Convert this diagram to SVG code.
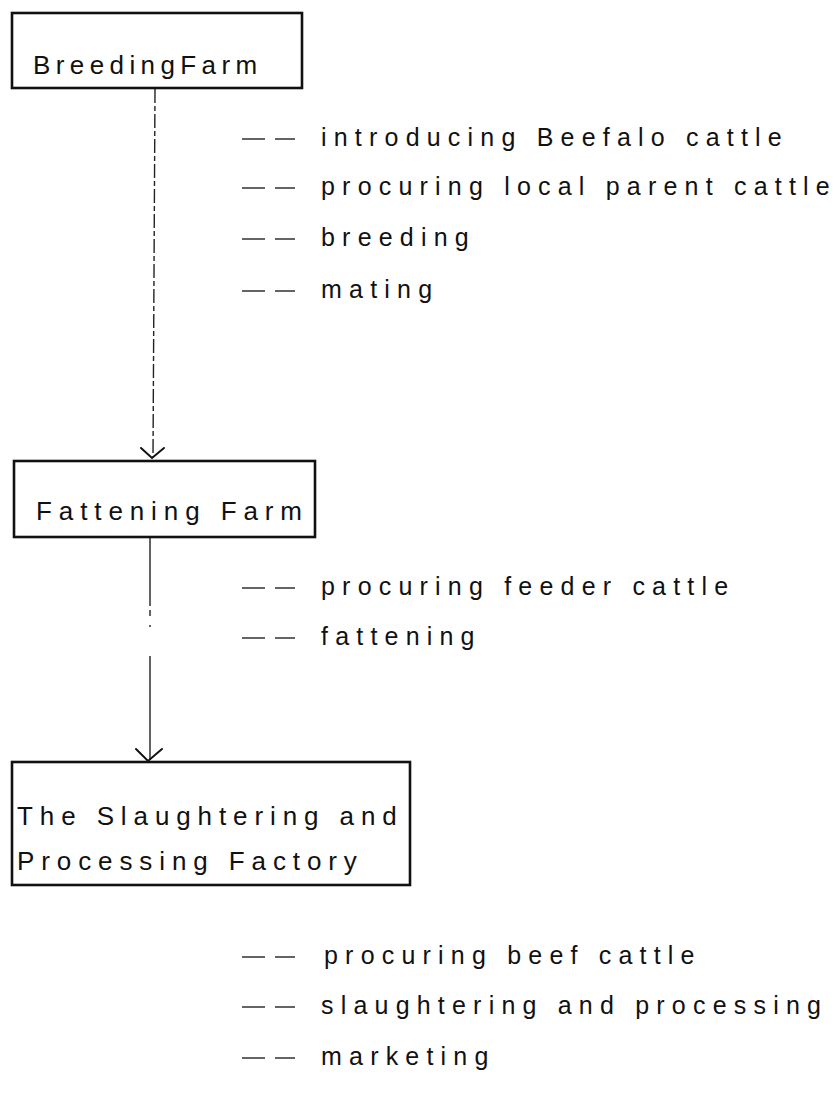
<svg xmlns="http://www.w3.org/2000/svg" width="835" height="1094" viewBox="0 0 835 1094">
  <style>
    .box { fill: #fff; stroke: #111; stroke-width: 2.6; }
    .title { font-family: "Liberation Sans", Arial, sans-serif; font-size: 26px; letter-spacing: 6.9px; fill: #111; }
    .item { font-family: "Liberation Sans", Arial, sans-serif; font-size: 25px; letter-spacing: 7.2px; fill: #111; }
    .bullet { stroke: #222; stroke-width: 1.4; }
    .link { stroke: #222; stroke-width: 1.4; fill: none; }
    .dashed { stroke-dasharray: 14 3 5 3; }
    .head { stroke: #111; stroke-width: 2; fill: none; stroke-linecap: round; }
  </style>
  <rect width="835" height="1094" fill="#fff"/>

  <!-- connectors between the three stages -->
  <g id="connectors">
    <line class="link dashed" x1="155" y1="89" x2="153" y2="457"/>
    <polyline class="head" points="141,448 152,458 164,448"/>
    <path class="link" d="M150 538 V606 M150 610 V616 M150 625 V627 M150 656 V760"/>
    <polyline class="head" points="136,749 148,761 162,749"/>
  </g>

  <!-- stage 1 -->
  <g id="breeding-farm">
    <rect class="box" x="12" y="13" width="290" height="75"/>
    <text class="title" x="33" y="74" style="letter-spacing:5.4px">BreedingFarm</text>
  </g>
  <g id="breeding-tasks">
    <line class="bullet" x1="242" y1="139" x2="265" y2="139"/><line class="bullet" x1="275" y1="139" x2="295" y2="139"/>
    <text class="item" x="321" y="146">introducing Beefalo cattle</text>
    <line class="bullet" x1="242" y1="188" x2="265" y2="188"/><line class="bullet" x1="275" y1="188" x2="295" y2="188"/>
    <text class="item" x="321" y="195">procuring local parent cattle</text>
    <line class="bullet" x1="242" y1="239" x2="265" y2="239"/><line class="bullet" x1="275" y1="239" x2="295" y2="239"/>
    <text class="item" x="321" y="246">breeding</text>
    <line class="bullet" x1="242" y1="291" x2="265" y2="291"/><line class="bullet" x1="275" y1="291" x2="295" y2="291"/>
    <text class="item" x="321" y="298">mating</text>
  </g>

  <!-- stage 2 -->
  <g id="fattening-farm">
    <rect class="box" x="14" y="461" width="301" height="76"/>
    <text class="title" x="36" y="520">Fattening Farm</text>
  </g>
  <g id="fattening-tasks">
    <line class="bullet" x1="242" y1="588" x2="265" y2="588"/><line class="bullet" x1="275" y1="588" x2="295" y2="588"/>
    <text class="item" x="321" y="595">procuring feeder cattle</text>
    <line class="bullet" x1="242" y1="638" x2="265" y2="638"/><line class="bullet" x1="275" y1="638" x2="295" y2="638"/>
    <text class="item" x="321" y="645">fattening</text>
  </g>

  <!-- stage 3 -->
  <g id="processing-factory">
    <rect class="box" x="12" y="762" width="398" height="123"/>
    <text class="title" x="17" y="825">The Slaughtering and</text>
    <text class="title" x="17" y="870">Processing Factory</text>
  </g>
  <g id="factory-tasks">
    <line class="bullet" x1="242" y1="957" x2="265" y2="957"/><line class="bullet" x1="275" y1="957" x2="295" y2="957"/>
    <text class="item" x="324" y="964">procuring beef cattle</text>
    <line class="bullet" x1="242" y1="1007" x2="265" y2="1007"/><line class="bullet" x1="275" y1="1007" x2="295" y2="1007"/>
    <text class="item" x="321" y="1014">slaughtering and processing</text>
    <line class="bullet" x1="242" y1="1058" x2="265" y2="1058"/><line class="bullet" x1="275" y1="1058" x2="295" y2="1058"/>
    <text class="item" x="321" y="1065">marketing</text>
  </g>
</svg>
